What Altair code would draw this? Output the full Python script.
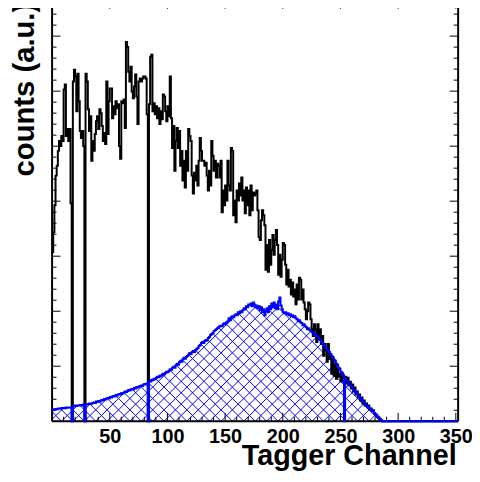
import altair as alt
import numpy as np
import pandas as pd

# ---- data (arbitrary units, one value per tagger channel) ----
black_counts = [
    171, 191, 218, 248, 258, 273, 283, 278, 288, 283,
    335, 340, 288, 295, 283, 295, 220, 0, 343, 355,
    348, 313, 351, 323, 293, 286, 293, 278, 0, 351,
    343, 315, 293, 308, 263, 283, 273, 290, 303, 308,
    295, 315, 311, 298, 283, 291, 280, 343, 290, 323,
    336, 336, 306, 318, 310, 323, 316, 320, 278, 265,
    323, 321, 325, 296, 383, 378, 353, 343, 358, 333,
    326, 338, 350, 328, 300, 343, 346, 343, 346, 348,
    348, 346, 310, 0, 320, 368, 370, 313, 321, 310,
    318, 306, 316, 300, 313, 305, 330, 328, 313, 303,
    318, 308, 348, 306, 276, 298, 253, 283, 296, 276,
    293, 258, 273, 243, 263, 236, 273, 253, 295, 288,
    283, 248, 230, 251, 243, 258, 238, 263, 286, 273,
    263, 263, 258, 261, 248, 233, 253, 238, 283, 268,
    253, 263, 246, 260, 258, 246, 263, 211, 233, 218,
    238, 223, 263, 238, 233, 276, 273, 208, 223, 201,
    233, 223, 240, 228, 246, 223, 233, 210, 236, 218,
    233, 208, 238, 213, 231, 228, 230, 233, 213, 186,
    183, 203, 213, 208, 198, 153, 178, 151, 183, 158,
    173, 188, 168, 183, 193, 178, 148, 168, 146, 163,
    180, 178, 158, 138, 153, 136, 143, 128, 140, 126,
    133, 118, 138, 123, 145, 143, 123, 133, 120, 113,
    103, 111, 120, 118, 103, 93, 86, 98, 93, 80,
    98, 83, 93, 78, 86, 66, 78, 73, 60, 78,
    63, 68, 48, 63, 46, 58, 43, 53, 45, 48,
    40, 48, 41, 43, 45, 38, 44, 36, 40, 33,
    37, 30, 34, 27, 30, 24, 27, 21, 24, 18,
    21, 16, 18, 14, 16, 12, 13, 10, 11, 8,
    7, 5, 4, 3, 2, 1,
] + [0] * 66

blue_counts = [
    11, 12, 12, 12.5, 12, 13, 13, 12.5, 13.5, 13,
    13.5, 13, 14, 13.5, 14, 14, 13.5, 0, 15.5, 15,
    16, 15.5, 16, 16, 16.5, 16, 16.5, 17, 0, 17,
    17, 17.5, 18, 17.5, 18, 18.5, 19, 18.5, 20, 19.5,
    20.5, 20, 21, 21.5, 21, 22.5, 22, 23, 23.5, 23,
    24.5, 24, 25, 25.5, 25, 26.5, 26, 27, 27.5, 27,
    28.5, 28, 29, 30, 29.5, 30.5, 31.5, 31, 32, 32.5,
    32, 33.5, 33, 34.5, 34, 35, 35.5, 36, 35.5, 37,
    37.5, 37, 38, 0, 41, 40, 42, 41.5, 43, 42.5,
    44, 45, 44.5, 46, 45.5, 47, 48, 47.5, 49, 50,
    49.5, 51, 52.5, 52, 54, 55, 54, 56.5, 58, 57,
    59.5, 61, 60, 62.5, 64, 63, 65, 66, 67.5, 69,
    68, 70, 71, 70, 72, 73, 74, 76, 77, 79,
    80, 79, 81, 82, 81.5, 84, 85, 87, 88, 89,
    91, 92, 93, 94, 95, 96, 96.5, 96, 98, 99,
    98, 100, 101, 104, 102, 105, 106, 105, 107, 108,
    107, 110, 109, 111, 110, 112, 114, 113, 116, 115,
    118, 117, 119, 116, 120, 118, 115, 117, 114, 116,
    112, 115, 110, 113, 107, 111, 114, 110, 116, 113,
    119, 115, 120, 114, 118, 113, 121, 125, 117, 113,
    110, 109, 110, 108, 109, 107, 108, 106, 107, 105,
    106, 104, 103, 101, 102, 100, 99, 97, 98, 96,
    95, 93, 94, 92, 91, 90, 89, 87, 88, 86,
    85, 83, 82, 80, 79, 77, 76, 74, 73, 71,
    70, 68, 66, 65, 62, 61, 58, 57, 54, 53,
    50, 49, 47, 0, 43, 41, 40, 38, 37, 35,
    34, 32, 31, 29, 28, 26, 25, 23, 22, 20,
    19, 17, 16, 15, 14, 13, 12, 11, 10, 8,
    7, 6, 4.5, 3.5, 2, 1,
] + [0] * 66

x_tick_labels = [50, 100, 150, 200, 250, 300, 350]
x_title = "Tagger Channel"
y_title = "counts (a.u.)"

# ---- layout / style ----
X_MAX = 352
Y_MAX = 425
W = 410
H = 425
PX_PER_CH = W / X_MAX
PX_PER_U = H / Y_MAX
FONT = "Liberation Sans"
BLUE = "#0000ff"

n = len(black_counts)
ch = list(range(n)) + [n]
hist = pd.DataFrame({
    "ch": ch,
    "black": black_counts + [black_counts[-1]],
    "blue": blue_counts + [blue_counts[-1]],
})
hist["top"] = Y_MAX

xs = alt.Scale(domain=[0, X_MAX], nice=False, zero=False)
ys = alt.Scale(domain=[0, Y_MAX], nice=False, zero=False)

x_axis = alt.Axis(
    values=x_tick_labels, title=x_title, grid=False, domain=False,
    ticks=False, tickSize=0, labelFlush=False, labelOverlap=False,
    labelFont=FONT, labelFontWeight="bold", labelFontSize=20,
    labelColor="black", labelPadding=5,
    titleFont=FONT, titleFontWeight="bold", titleFontSize=29,
    titleColor="black", titleAlign="right", titleBaseline="alphabetic",
    titleX=408, titleY=44,
)
y_axis = alt.Axis(
    title=y_title, grid=False, domain=False, ticks=False, tickSize=0,
    labels=False,
    titleFont=FONT, titleFontWeight="bold", titleFontSize=29.5,
    titleColor="black", titleAngle=270, titleAlign="right",
    titleBaseline="alphabetic", titleX=-18.5, titleY=2,
)

# hatch pattern (cross-hatch at +-45 degrees), masked above the blue histogram
spacing_ch = 11.5 / PX_PER_CH
rise = 135.0
run = rise * PX_PER_U / PX_PER_CH
starts = np.arange(-130.0, X_MAX + 130.0, spacing_ch)
hatch_rows = []
for s in starts:
    hatch_rows.append({"x": s, "x2": s + run, "y": 0.0, "y2": rise})
    hatch_rows.append({"x": s, "x2": s - run, "y": 0.0, "y2": rise})
hatch_df = pd.DataFrame(hatch_rows)

# inside ticks and frame
tick_rows = []
for v in range(0, 351, 10):
    L = 8.5 if v % 50 == 0 else 4.5
    tick_rows.append({"x": v, "x2": v, "y": 0, "y2": L / PX_PER_U})
    tick_rows.append({"x": v, "x2": v, "y": Y_MAX, "y2": Y_MAX - L / PX_PER_U})
ystep = 55.55 / 5 / PX_PER_U
k = 0
while k * ystep <= Y_MAX:
    v = k * ystep
    L = 8.5 if k % 5 == 0 else 4.5
    tick_rows.append({"x": 0, "x2": L / PX_PER_CH, "y": v, "y2": v})
    tick_rows.append({"x": X_MAX, "x2": X_MAX - L / PX_PER_CH, "y": v, "y2": v})
    k += 1
tick_df = pd.DataFrame(tick_rows)

frame_df = pd.DataFrame([
    {"x": 0, "x2": 0, "y": 0, "y2": Y_MAX},
    {"x": X_MAX, "x2": X_MAX, "y": 0, "y2": Y_MAX},
    {"x": 0, "x2": X_MAX, "y": 0, "y2": 0},
    {"x": 0, "x2": X_MAX, "y": Y_MAX, "y2": Y_MAX},
])

hatch = alt.Chart(hatch_df).mark_rule(color=BLUE, strokeWidth=1, clip=True).encode(
    x=alt.X("x:Q", scale=xs, axis=x_axis), x2="x2:Q",
    y=alt.Y("y:Q", scale=ys, axis=y_axis), y2="y2:Q",
)
mask = alt.Chart(hist).mark_area(interpolate="step-after", color="white", opacity=1).encode(
    x=alt.X("ch:Q", scale=xs, axis=x_axis),
    y=alt.Y("blue:Q", scale=ys, axis=y_axis),
    y2="top:Q",
)
ticks = alt.Chart(tick_df).mark_rule(color="black", strokeWidth=1).encode(
    x=alt.X("x:Q", scale=xs, axis=x_axis), x2="x2:Q",
    y=alt.Y("y:Q", scale=ys, axis=y_axis), y2="y2:Q",
)
frame = alt.Chart(frame_df).mark_rule(color="black", strokeWidth=2).encode(
    x=alt.X("x:Q", scale=xs, axis=x_axis), x2="x2:Q",
    y=alt.Y("y:Q", scale=ys, axis=y_axis), y2="y2:Q",
)
black_line = alt.Chart(hist).mark_line(interpolate="step-after", color="black", strokeWidth=2).encode(
    x=alt.X("ch:Q", scale=xs, axis=x_axis),
    y=alt.Y("black:Q", scale=ys, axis=y_axis),
)
blue_line = alt.Chart(hist).mark_line(interpolate="step-after", color=BLUE, strokeWidth=2).encode(
    x=alt.X("ch:Q", scale=xs, axis=x_axis),
    y=alt.Y("blue:Q", scale=ys, axis=y_axis),
)

chart = alt.layer(hatch, mask, ticks, frame, black_line, blue_line).properties(
    width=W, height=H,
    autosize=alt.AutoSizeParams(type="none"),
    padding={"left": 44.5, "top": -10, "right": 14, "bottom": 50},
    background="white",
).configure_view(stroke=None)

chart.save("out.html", embed_options={"renderer": "svg", "actions": False})
